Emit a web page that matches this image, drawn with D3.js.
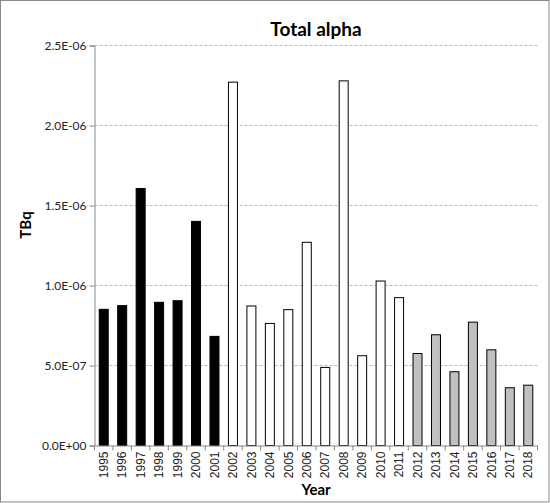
<!DOCTYPE html>
<html><head><meta charset="utf-8">
<script src="https://cdn.jsdelivr.net/npm/d3@7"></script>
<style>body{margin:0;background:#fff}svg{font-family:Lato,"Open Sans",sans-serif}</style>
</head><body><div id="chart"></div>
<script>
// years and measured values (TBq)
const years = ["1995","1996","1997","1998","1999","2000","2001","2002","2003","2004","2005","2006",
  "2007","2008","2009","2010","2011","2012","2013","2014","2015","2016","2017","2018"];
const values = [0.851e-6,0.874e-6,1.606e-6,0.895e-6,0.905e-6,1.401e-6,0.682e-6,2.271e-6,0.872e-6,0.763e-6,
  0.849e-6,1.270e-6,0.488e-6,2.279e-6,0.561e-6,1.028e-6,0.924e-6,0.575e-6,0.692e-6,0.461e-6,
  0.771e-6,0.598e-6,0.361e-6,0.377e-6];
const yTicks = [0, 0.5e-6, 1.0e-6, 1.5e-6, 2.0e-6, 2.5e-6];

function fillFor(yr) {
  const y = +yr;
  if (y <= 2001) return "#000";
  if (y <= 2011) return "#fff";
  return "#c0c0c0";
}

const W = 550, H = 503;
const m = {left: 94.5, right: 12.5, top: 45.5, bottom: 57.5};
const svg = d3.select("#chart").append("svg").attr("width", W).attr("height", H);

svg.append("rect").attr("x", 0.5).attr("y", 0.5).attr("width", W - 1.5).attr("height", H - 1.5)
  .attr("fill", "none").attr("stroke", "#888");

const x = d3.scaleBand().domain(years).range([m.left, W - m.right]);
const y = d3.scaleLinear().domain([0, 2.5e-6]).range([H - m.bottom, m.top]);

// gridlines
svg.append("g").selectAll("line").data(yTicks.slice(1)).enter().append("line")
  .attr("x1", m.left).attr("x2", W - m.right)
  .attr("y1", d => y(d)).attr("y2", d => y(d))
  .attr("stroke", "#bbb").attr("stroke-dasharray", "3,2");

// bars
const bw = 9;
svg.append("g").selectAll("rect").data(years).enter().append("rect")
  .attr("x", d => x(d) + (x.bandwidth() - bw) / 2)
  .attr("y", (d, i) => y(values[i]))
  .attr("width", bw)
  .attr("height", (d, i) => y(0) - y(values[i]))
  .attr("fill", d => fillFor(d))
  .attr("stroke", "#000").attr("stroke-width", 1);

// y axis
const yAxis = svg.append("g").attr("transform", `translate(${m.left},0)`)
  .call(d3.axisLeft(y).tickValues(yTicks).tickSize(5)
    .tickFormat(d => d === 0 ? "0.0E+00" : d.toExponential(1).replace("e-", "E-0")));
yAxis.select(".domain").attr("stroke", "#888");
yAxis.selectAll(".tick line").attr("stroke", "#888");
yAxis.selectAll("text").attr("font-size", 12).attr("fill", "#222").attr("font-family", "Lato");

// x axis
const xAxis = svg.append("g").attr("transform", `translate(0,${y(0)})`)
  .call(d3.axisBottom(x).tickSize(0).tickPadding(6));
xAxis.select(".domain").attr("stroke", "#888");
xAxis.selectAll("text").attr("font-size", 12).attr("fill", "#222")
  .attr("transform", "rotate(-90)").attr("text-anchor", "end")
  .attr("dx", "-6").attr("dy", "0.35em").attr("x", 0).attr("y", 0);
svg.append("g").selectAll("line").data(years.concat(["end"])).enter().append("line")
  .attr("x1", (d, i) => m.left + i * x.step()).attr("x2", (d, i) => m.left + i * x.step())
  .attr("y1", y(0)).attr("y2", y(0) + 5).attr("stroke", "#888");

svg.append("text").attr("x", 316).attr("y", 36).attr("text-anchor", "middle")
  .attr("font-size", 19).attr("font-weight", "bold").text("Total alpha");
svg.append("text").attr("x", 316).attr("y", 495).attr("text-anchor", "middle")
  .attr("font-size", 15).attr("font-weight", "bold").text("Year");
svg.append("text").attr("transform", "translate(31,225) rotate(-90)").attr("text-anchor", "middle")
  .attr("font-size", 15).attr("font-weight", "bold").text("TBq");
</script></body></html>
